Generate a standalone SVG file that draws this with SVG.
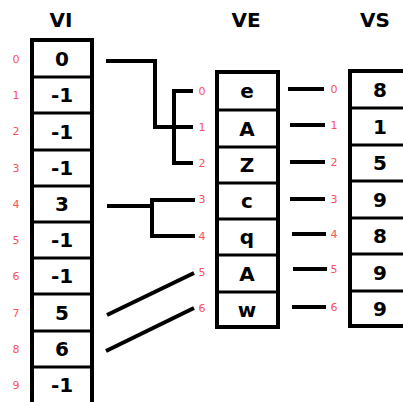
<svg xmlns="http://www.w3.org/2000/svg" width="403" height="402" viewBox="0 0 403 402">
<style>
.box{fill:#fff;stroke:#000;stroke-width:4}
.div{stroke:#000;stroke-width:3}
.val{font-family:"DejaVu Sans",sans-serif;font-weight:bold;font-size:20px;text-anchor:middle;fill:#000}
.ttl{font-family:"DejaVu Sans",sans-serif;font-weight:bold;font-size:20px;text-anchor:middle;fill:#000}
.idx{font-family:"DejaVu Sans",sans-serif;font-size:11px;text-anchor:middle;fill:#ff4f5a}
.con{fill:none;stroke:#000;stroke-width:4}
</style>
<rect width="403" height="402" fill="#fff"/>
<g id="titles">
<text class="ttl" x="61" y="27">VI</text>
<text class="ttl" x="246" y="27">VE</text>
<text class="ttl" x="375" y="27">VS</text>
</g>
<g id="VI">
<rect class="box" x="32" y="40" width="60" height="365"/>
<line class="div" x1="32" y1="77" x2="92" y2="77"/>
<line class="div" x1="32" y1="113" x2="92" y2="113"/>
<line class="div" x1="32" y1="150" x2="92" y2="150"/>
<line class="div" x1="32" y1="186" x2="92" y2="186"/>
<line class="div" x1="32" y1="222" x2="92" y2="222"/>
<line class="div" x1="32" y1="258" x2="92" y2="258"/>
<line class="div" x1="32" y1="294" x2="92" y2="294"/>
<line class="div" x1="32" y1="331" x2="92" y2="331"/>
<line class="div" x1="32" y1="367" x2="92" y2="367"/>
<text class="val" x="62" y="66">0</text>
<text class="val" x="62" y="102">-1</text>
<text class="val" x="62" y="139">-1</text>
<text class="val" x="62" y="175">-1</text>
<text class="val" x="62" y="211">3</text>
<text class="val" x="62" y="247">-1</text>
<text class="val" x="62" y="283">-1</text>
<text class="val" x="62" y="320">5</text>
<text class="val" x="62" y="356">6</text>
<text class="val" x="62" y="392">-1</text>
<text class="idx" x="16" y="63">0</text>
<text class="idx" x="16" y="99">1</text>
<text class="idx" x="16" y="135">2</text>
<text class="idx" x="16" y="172">3</text>
<text class="idx" x="16" y="208">4</text>
<text class="idx" x="16" y="244">5</text>
<text class="idx" x="16" y="280">6</text>
<text class="idx" x="16" y="317">7</text>
<text class="idx" x="16" y="353">8</text>
<text class="idx" x="16" y="389">9</text>
</g>
<g id="VE">
<rect class="box" x="217" y="72" width="61" height="255"/>
<line class="div" x1="217" y1="110" x2="278" y2="110"/>
<line class="div" x1="217" y1="147" x2="278" y2="147"/>
<line class="div" x1="217" y1="183" x2="278" y2="183"/>
<line class="div" x1="217" y1="219" x2="278" y2="219"/>
<line class="div" x1="217" y1="255" x2="278" y2="255"/>
<line class="div" x1="217" y1="292" x2="278" y2="292"/>
<text class="val" x="247" y="98">e</text>
<text class="val" x="247" y="136">A</text>
<text class="val" x="247" y="172">Z</text>
<text class="val" x="247" y="208">c</text>
<text class="val" x="247" y="244">q</text>
<text class="val" x="247" y="281">A</text>
<text class="val" x="247" y="317">w</text>
<text class="idx" x="202" y="95">0</text>
<text class="idx" x="202" y="131">1</text>
<text class="idx" x="202" y="167">2</text>
<text class="idx" x="202" y="203">3</text>
<text class="idx" x="202" y="240">4</text>
<text class="idx" x="202" y="276">5</text>
<text class="idx" x="202" y="312">6</text>
</g>
<g id="VS">
<rect class="box" x="350" y="71" width="62" height="255"/>
<line class="div" x1="350" y1="108" x2="412" y2="108"/>
<line class="div" x1="350" y1="145" x2="412" y2="145"/>
<line class="div" x1="350" y1="181" x2="412" y2="181"/>
<line class="div" x1="350" y1="218" x2="412" y2="218"/>
<line class="div" x1="350" y1="254" x2="412" y2="254"/>
<line class="div" x1="350" y1="291" x2="412" y2="291"/>
<text class="val" x="380" y="97">8</text>
<text class="val" x="380" y="134">1</text>
<text class="val" x="380" y="170">5</text>
<text class="val" x="380" y="207">9</text>
<text class="val" x="380" y="243">8</text>
<text class="val" x="380" y="280">9</text>
<text class="val" x="380" y="316">9</text>
<text class="idx" x="334" y="93">0</text>
<text class="idx" x="334" y="129">1</text>
<text class="idx" x="334" y="166">2</text>
<text class="idx" x="334" y="203">3</text>
<text class="idx" x="334" y="238">4</text>
<text class="idx" x="334" y="273">5</text>
<text class="idx" x="334" y="311">6</text>
</g>
<g id="connectors">
<path class="con" d="M106,61 H155 V127 H193"/>
<path class="con" d="M193,91 H174 V163 H193"/>
<path class="con" d="M107,206 H152"/>
<path class="con" d="M195,200 H152 V236 H195"/>
<path class="con" d="M107,315 L194,273"/>
<path class="con" d="M106,351 L194,308"/>
<path class="con" d="M288,89 H324"/>
<path class="con" d="M290,125 H325"/>
<path class="con" d="M290,162 H325"/>
<path class="con" d="M290,199 H325"/>
<path class="con" d="M292,234 H326"/>
<path class="con" d="M293,269 H327"/>
<path class="con" d="M292,307 H326"/>
</g>
</svg>
